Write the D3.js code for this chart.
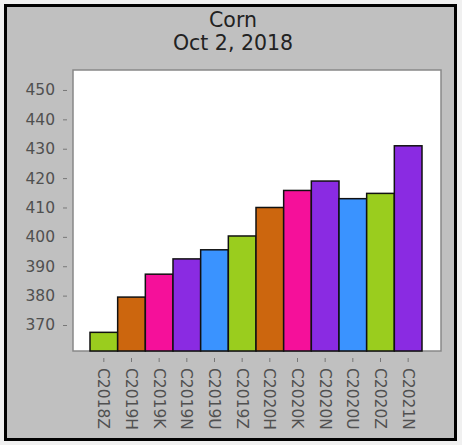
<!DOCTYPE html>
<html><head><meta charset="utf-8">
<script src="https://cdn.jsdelivr.net/npm/d3@7"></script>
<style>html,body{margin:0;padding:0;background:#f0f0f0;}svg{display:block;}</style>
</head><body>
<script>
const categories = ["C2018Z","C2019H","C2019K","C2019N","C2019U","C2019Z","C2020H","C2020K","C2020N","C2020U","C2020Z","C2021N"];
const values = [367.5, 379.5, 387.3, 392.5, 395.6, 400.3, 410, 415.8, 419, 413, 414.8, 431];
const colors = ["#9acd1e","#cc660e","#f5109a","#8a2be2","#3a93ff","#9acd1e","#cc660e","#f5109a","#8a2be2","#3a93ff","#9acd1e","#8a2be2"];
const yTicks = [370,380,390,400,410,420,430,440,450];
const titleLines = ["Corn","Oct 2, 2018"];

const W=462,H=445;
const svg=d3.select("body").append("svg").attr("width",W).attr("height",H);
svg.append("rect").attr("x",5.5).attr("y",5.5).attr("width",450).attr("height",434)
  .attr("fill","#c0c0c0").attr("stroke","#000").attr("stroke-width",3);

const L=73,R=441,T=70,B=351;
svg.append("rect").attr("x",L).attr("y",T).attr("width",R-L).attr("height",B-T)
  .attr("fill","#fff").attr("stroke","#888").attr("stroke-width",1.5);

const x=d3.scaleBand().domain(categories).range([90,422]).padding(0);
const y=d3.scaleLinear().domain([361.15,456.8]).range([B,T]);

svg.append("g").selectAll("rect").data(categories).join("rect")
  .attr("x",d=>x(d)).attr("width",x.bandwidth())
  .attr("y",(d,i)=>y(values[i])).attr("height",(d,i)=>B-y(values[i]))
  .attr("fill",(d,i)=>colors[i]).attr("stroke","#111").attr("stroke-width",1.5);

// y axis
const ya=svg.append("g").attr("transform",`translate(${L-6},0)`)
  .call(d3.axisLeft(y).tickValues(yTicks).tickSize(4).tickPadding(8));
ya.select(".domain").remove();
ya.selectAll("line").attr("stroke","#777");
ya.selectAll("text").attr("fill","#505050").style("font-family","DejaVu Sans").style("font-size","15.5px");

// x axis
const xa=svg.append("g").attr("transform",`translate(0,${B+7})`)
  .call(d3.axisBottom(x).tickSize(4).tickPadding(0));
xa.select(".domain").remove();
xa.selectAll("line").attr("stroke","#777");
xa.selectAll("text").attr("fill","#505050").style("font-family","DejaVu Sans").style("font-size","15.5px")
  .attr("transform","rotate(90)").attr("text-anchor","start").attr("dy","0.35em").attr("x",10).attr("y",0);

svg.append("g").selectAll("text").data(titleLines).join("text")
  .attr("x",233).attr("y",(d,i)=>27+i*23).attr("text-anchor","middle")
  .attr("fill","#222").style("font-family","DejaVu Sans").style("font-size","20.5px").text(d=>d);
</script>
</body></html>
